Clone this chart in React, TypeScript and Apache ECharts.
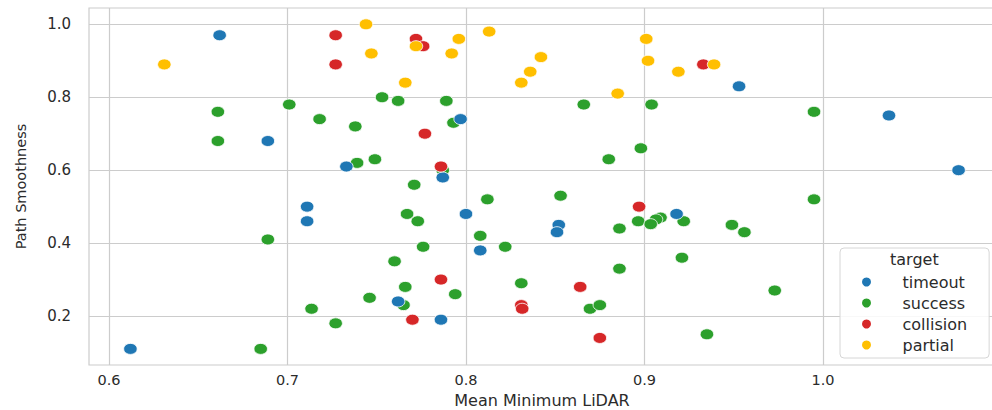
import React, { useEffect, useRef } from "react";
import * as echarts from "echarts";

// ---- data ----
const categories = ["timeout", "success", "collision", "partial"];

const timeoutPoints: number[][] = [
  [0.662, 0.97], [0.689, 0.68], [0.711, 0.5], [0.711, 0.46], [0.612, 0.11],
  [0.797, 0.74], [0.733, 0.61], [0.787, 0.58], [0.8, 0.48], [0.808, 0.38],
  [0.852, 0.45], [0.851, 0.43], [0.762, 0.24], [0.786, 0.19], [0.918, 0.48],
  [0.953, 0.83], [1.037, 0.75], [1.076, 0.6],
];

const successPoints: number[][] = [
  [0.661, 0.76], [0.661, 0.68], [0.701, 0.78], [0.718, 0.74], [0.689, 0.41],
  [0.7135, 0.22], [0.685, 0.11], [0.727, 0.18], [0.753, 0.8], [0.762, 0.79],
  [0.789, 0.79], [0.793, 0.73], [0.738, 0.72], [0.739, 0.62], [0.749, 0.63],
  [0.787, 0.6], [0.771, 0.56], [0.866, 0.78], [0.904, 0.78], [0.898, 0.66],
  [0.88, 0.63], [0.812, 0.52], [0.853, 0.53], [0.995, 0.76], [0.995, 0.52],
  [0.767, 0.48], [0.773, 0.46], [0.808, 0.42], [0.822, 0.39], [0.776, 0.39],
  [0.76, 0.35], [0.886, 0.44], [0.8965, 0.46], [0.909, 0.47], [0.9065, 0.465],
  [0.9035, 0.452], [0.886, 0.33], [0.766, 0.28], [0.746, 0.25], [0.765, 0.23],
  [0.794, 0.26], [0.831, 0.29], [0.8695, 0.22], [0.875, 0.23], [0.922, 0.46],
  [0.949, 0.45], [0.956, 0.43], [0.921, 0.36], [0.973, 0.27], [0.935, 0.15],
];

const collisionPoints: number[][] = [
  [0.727, 0.97], [0.727, 0.89], [0.772, 0.96], [0.776, 0.94], [0.777, 0.7],
  [0.786, 0.61], [0.897, 0.5], [0.786, 0.3], [0.77, 0.19], [0.831, 0.23],
  [0.8315, 0.22], [0.864, 0.28], [0.875, 0.14], [0.933, 0.89],
];

const partialPoints: number[][] = [
  [0.631, 0.89], [0.744, 1.0], [0.772, 0.94], [0.796, 0.96], [0.747, 0.92],
  [0.792, 0.92], [0.766, 0.84], [0.813, 0.98], [0.842, 0.91], [0.836, 0.87],
  [0.831, 0.84], [0.885, 0.81], [0.901, 0.96], [0.902, 0.9], [0.919, 0.87],
  [0.939, 0.89],
];

const xTicks = [0.6, 0.7, 0.8, 0.9, 1.0];
const yTicks = [0.2, 0.4, 0.6, 0.8, 1.0];

const xTitle = "Mean Minimum LiDAR";
const yTitle = "Path Smoothness";
const legendTitle = "target";

const colorMap: Record<string, string> = {
  timeout: "#1f77b4",
  success: "#2ca02c",
  collision: "#d62728",
  partial: "#ffbf00",
};

const pointsMap: Record<string, number[][]> = {
  timeout: timeoutPoints,
  success: successPoints,
  collision: collisionPoints,
  partial: partialPoints,
};

// drawing order (later on top)
const drawOrder = ["success", "timeout", "collision", "partial"];

const FONT = "DejaVu Sans";
const TEXT = "#2b2b2b";

export default function App() {
  const ref = useRef<HTMLDivElement>(null);

  useEffect(() => {
    if (!ref.current) return;
    const chart = echarts.init(ref.current, undefined, { renderer: "svg" });

    const series = drawOrder.map((name) => ({
      name,
      type: "scatter",
      data: pointsMap[name],
      symbol: "circle",
      symbolSize: [13.5, 11],
      itemStyle: {
        color: colorMap[name],
        borderColor: "#ffffff",
        borderWidth: 0.8,
        opacity: 1,
      },
      emphasis: { disabled: true },
    }));

    chart.setOption({
      animation: false,
      backgroundColor: "#ffffff",
      grid: {
        left: 89,
        right: -3,
        top: 8,
        bottom: 45,
        show: true,
        borderColor: "#cccccc",
        borderWidth: 1.2,
        backgroundColor: "#ffffff",
        containLabel: false,
        outerBoundsMode: "none",
      },
      xAxis: {
        type: "value",
        min: 0.5888,
        max: 1.0964,
        name: xTitle,
        nameLocation: "middle",
        nameMoveOverlap: false,
        nameGap: 27.5,
        nameTextStyle: { fontFamily: FONT, fontSize: 16, lineHeight: 15, color: TEXT },
        axisLine: { show: false },
        axisTick: { show: false, customValues: xTicks },
        axisLabel: {
          customValues: xTicks,
          formatter: (v: number) => v.toFixed(1),
          fontFamily: FONT,
          fontSize: 14.5,
          lineHeight: 14,
          color: TEXT,
          margin: 8,
        },
        splitLine: { show: true, lineStyle: { color: "#cccccc", width: 1.2 } },
      },
      yAxis: {
        type: "value",
        min: 0.0658,
        max: 1.0447,
        name: yTitle,
        nameLocation: "middle",
        nameMoveOverlap: false,
        nameGap: 61,
        nameRotate: 90,
        nameTextStyle: { fontFamily: FONT, fontSize: 14.5, color: TEXT },
        axisLine: { show: false },
        axisTick: { show: false, customValues: yTicks },
        axisLabel: {
          customValues: yTicks,
          formatter: (v: number) => v.toFixed(1),
          fontFamily: FONT,
          fontSize: 15,
          color: TEXT,
          margin: 18,
        },
        splitLine: { show: true, lineStyle: { color: "#cccccc", width: 1.2 } },
      },
      legend: {
        data: categories,
        orient: "vertical",
        left: 840,
        top: 248,
        itemWidth: 14,
        itemHeight: 11,
        itemGap: 5,
        icon: "circle",
        padding: [26, 22, 5, 20],
        backgroundColor: "rgba(255,255,255,0.85)",
        borderColor: "#d6d6d6",
        borderWidth: 1,
        borderRadius: 4,
        selectedMode: false,
        formatter: (name: string) => `{t|${name}}`,
        textStyle: {
          rich: {
            t: {
              fontFamily: FONT,
              fontSize: 16,
              color: TEXT,
              lineHeight: 16,
              padding: [0, 0, 0, 24],
            },
          },
        },
      },
      graphic: [
        {
          type: "text",
          z: 100,
          left: 890,
          top: 251,
          style: {
            text: legendTitle,
            fontFamily: FONT,
            fontSize: 16,
            fill: TEXT,
          },
        },
      ],
      series,
    });

    return () => chart.dispose();
  }, []);

  return (
    <div
      ref={ref}
      style={{ position: "fixed", left: 0, top: 0, width: 992, height: 410 }}
    />
  );
}
